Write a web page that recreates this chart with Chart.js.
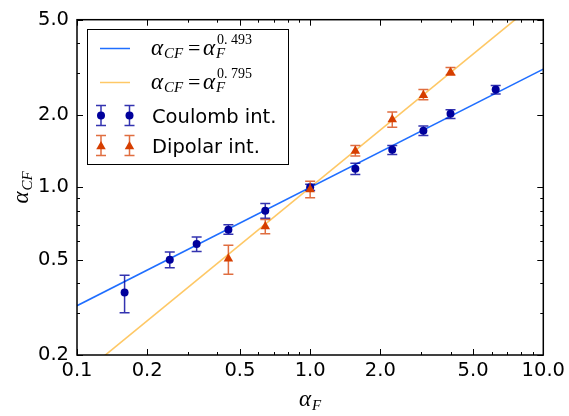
<!DOCTYPE html>
<html>
<head>
<meta charset="utf-8">
<script src="https://cdn.jsdelivr.net/npm/chart.js@4"></script>
<style>
  html, body { margin: 0; padding: 0; background: #fff; }
</style>
</head>
<body>
<canvas id="chart" width="569" height="416"></canvas>
<script>
// values (log-log axes)
const coulombX    = [0.16, 0.25, 0.326, 0.446, 0.642, 1.0, 1.5625, 2.25, 3.06, 4.0, 6.25];
const coulombY    = [0.364, 0.499, 0.58, 0.666, 0.799, 1.0, 1.196, 1.435, 1.72, 2.027, 2.56];
const coulombLow  = [0.30, 0.462, 0.54, 0.637, 0.744, 0.97, 1.132, 1.372, 1.646, 1.937, 2.45];
const coulombHigh = [0.43, 0.537, 0.621, 0.698, 0.857, 1.03, 1.259, 1.496, 1.80, 2.106, 2.66];

const dipolarX    = [0.446, 0.642, 1.0, 1.5625, 2.25, 3.06, 4.0];
const dipolarY    = [0.504, 0.686, 0.98, 1.416, 1.92, 2.42, 3.02];
const dipolarLow  = [0.434, 0.641, 0.906, 1.35, 1.78, 2.32, 2.93];
const dipolarHigh = [0.574, 0.735, 1.06, 1.496, 2.06, 2.56, 3.16];

// fitted power laws, end points at the axis limits
const fitX       = [0.1, 10];
const coulombFit = [0.321, 3.11];   // alpha_F^0.493
const dipolarFit = [0.160, 6.24];   // alpha_F^0.795

const xTicks = [0.1, 0.2, 0.5, 1, 2, 5, 10];
const xMinor = [0.3, 0.4, 0.6, 0.7, 0.8, 0.9, 3, 4, 6, 7, 8, 9];
const yTicks = [0.2, 0.5, 1, 2, 5];
const yMinor = [0.3, 0.4, 0.6, 0.7, 0.8, 0.9, 3, 4];

const BLUE_LINE = "#1f6eff";
const ORANGE_LINE = "#fec866";
const BLUE_PT = "#00009c";
const BLUE_ERR = "rgba(0,0,156,0.8)";
const RED_PT = "#d63e00";
const RED_ERR = "rgba(214,62,0,0.75)";
const MATH = '"Liberation Serif", "DejaVu Serif", serif';
const SANS = '"DejaVu Sans", sans-serif';

const toPts = (xs, ys) => xs.map((x, i) => ({ x: x, y: ys[i] }));

// ========== helpers ==========
function mathSym(ctx, x, y, base, sub, sup, dry) {
  ctx.font = `italic 23px ${MATH}`;
  const w = ctx.measureText(base).width;
  if (!dry) ctx.fillText(base, x, y);
  let end = x + w;
  if (sub) {
    ctx.font = `italic 15px ${MATH}`;
    if (!dry) ctx.fillText(sub, x + w + 1, y + 3.5);
    end = Math.max(end, x + w + 1 + ctx.measureText(sub).width);
  }
  if (sup) {
    ctx.font = `14px ${MATH}`;
    if (!dry) ctx.fillText(sup, x + w + 2, y - 11);
    end = Math.max(end, x + w + 2 + ctx.measureText(sup).width);
  }
  return end - x;
}

function errBar(ctx, px, top, bot) {
  ctx.beginPath();
  ctx.moveTo(px, top); ctx.lineTo(px, bot);
  ctx.moveTo(px - 5, top); ctx.lineTo(px + 5, top);
  ctx.moveTo(px - 5, bot); ctx.lineTo(px + 5, bot);
  ctx.stroke();
}

function circle(ctx, x, y, r) {
  ctx.beginPath(); ctx.arc(x, y, r, 0, Math.PI * 2); ctx.fill();
}

function triangle(ctx, x, y, r) {
  ctx.beginPath();
  for (let k = 0; k < 3; k++) {
    const a = k * 2 * Math.PI / 3;
    const fx = x + Math.sin(a) * r, fy = y - Math.cos(a) * r;
    k === 0 ? ctx.moveTo(fx, fy) : ctx.lineTo(fx, fy);
  }
  ctx.closePath(); ctx.fill();
}

// ========== plugins ==========
const errorBars = {
  id: "errorBars",
  beforeDatasetDraw(chart, args) {
    const ds = chart.data.datasets[args.index];
    if (!ds.errLow) return;
    const { ctx, scales: { x, y } } = chart;
    ctx.save();
    ctx.strokeStyle = ds.errColor;
    ctx.lineWidth = 1.5;
    ds.data.forEach((p, i) => {
      errBar(ctx, x.getPixelForValue(p.x), y.getPixelForValue(ds.errHigh[i]), y.getPixelForValue(ds.errLow[i]));
    });
    ctx.restore();
  }
};

const frame = {
  id: "frame",
  afterDraw(chart) {
    const { ctx, chartArea: a, scales: { x, y } } = chart;
    ctx.save();
    ctx.strokeStyle = "#000";
    ctx.lineWidth = 1;
    const tickX = (vals, len) => vals.forEach(v => {
      const px = Math.round(x.getPixelForValue(v)) + 0.5;
      ctx.beginPath();
      ctx.moveTo(px, a.bottom); ctx.lineTo(px, a.bottom - len);
      ctx.moveTo(px, a.top); ctx.lineTo(px, a.top + len);
      ctx.stroke();
    });
    const tickY = (vals, len) => vals.forEach(v => {
      const py = Math.round(y.getPixelForValue(v)) + 0.5;
      ctx.beginPath();
      ctx.moveTo(a.left, py); ctx.lineTo(a.left + len, py);
      ctx.moveTo(a.right, py); ctx.lineTo(a.right - len, py);
      ctx.stroke();
    });
    tickX(xTicks, 6); tickX(xMinor, 3);
    tickY(yTicks, 6); tickY(yMinor, 3);
    ctx.lineWidth = 1.5;
    ctx.strokeRect(a.left, a.top, a.right - a.left, a.bottom - a.top);

    // legend
    ctx.fillStyle = "#fff";
    ctx.fillRect(87, 29, 201, 135);
    ctx.lineWidth = 1;
    ctx.strokeRect(87.5, 29.5, 201, 135);
    ctx.lineWidth = 1.5;
    ctx.strokeStyle = BLUE_LINE;
    ctx.beginPath(); ctx.moveTo(100, 48.5); ctx.lineTo(130, 48.5); ctx.stroke();
    ctx.strokeStyle = ORANGE_LINE;
    ctx.beginPath(); ctx.moveTo(100, 82.5); ctx.lineTo(130, 82.5); ctx.stroke();
    [[54.5, "0. 493"], [88.5, "0. 795"]].forEach(([by, p]) => {
      ctx.fillStyle = "#000";
      mathSym(ctx, 151, by, "\u03b1", "CF");
      ctx.font = `22px ${MATH}`;
      ctx.fillText("=", 188, by);
      mathSym(ctx, 203, by, "\u03b1", "F", p);
    });
    [101, 129.5].forEach(px => {
      ctx.strokeStyle = BLUE_ERR; errBar(ctx, px, 105.5, 125.5);
      ctx.fillStyle = BLUE_PT; circle(ctx, px, 115.5, 4);
      ctx.strokeStyle = RED_ERR; errBar(ctx, px, 135.5, 155.5);
      ctx.fillStyle = RED_PT; triangle(ctx, px, 146.5, 5.5);
    });
    ctx.fillStyle = "#000";
    ctx.font = `19.5px ${SANS}`;
    ctx.fillText("Coulomb int.", 152, 122.5);
    ctx.fillText("Dipolar int.", 152, 153);

    // axis titles
    const cx = (a.left + a.right) / 2;
    const wx = mathSym(ctx, 0, 0, "\u03b1", "F", null, true);
    mathSym(ctx, cx - wx / 2, 406, "\u03b1", "F");
    ctx.translate(28, (a.top + a.bottom) / 2);
    ctx.rotate(-Math.PI / 2);
    const wy = mathSym(ctx, 0, 0, "\u03b1", "CF", null, true);
    mathSym(ctx, -wy / 2, 0, "\u03b1", "CF");
    ctx.restore();
  }
};

// ========== chart ==========
new Chart(document.getElementById("chart"), {
  type: "scatter",
  data: {
    datasets: [
      {
        label: "Dipolar int.", data: toPts(dipolarX, dipolarY), order: 0,
        pointStyle: "triangle", pointRadius: 5.5, borderWidth: 0,
        backgroundColor: RED_PT, errLow: dipolarLow, errHigh: dipolarHigh, errColor: RED_ERR
      },
      {
        label: "Coulomb int.", data: toPts(coulombX, coulombY), order: 1,
        pointStyle: "circle", pointRadius: 4, borderWidth: 0,
        backgroundColor: BLUE_PT, errLow: coulombLow, errHigh: coulombHigh, errColor: BLUE_ERR
      },
      {
        label: "fit 0.493", data: toPts(fitX, coulombFit), order: 2, showLine: true,
        borderColor: BLUE_LINE, borderWidth: 1.6, pointRadius: 0
      },
      {
        label: "fit 0.795", data: toPts(fitX, dipolarFit), order: 2, showLine: true,
        borderColor: ORANGE_LINE, borderWidth: 1.6, pointRadius: 0
      }
    ]
  },
  options: {
    responsive: false,
    animation: false,
    layout: { padding: { top: 19, right: 24, left: 0, bottom: 0 } },
    plugins: { legend: { display: false }, tooltip: { enabled: false } },
    scales: {
      x: {
        type: "logarithmic", min: 0.1, max: 10,
        grid: { display: false, drawTicks: false }, border: { display: false },
        afterBuildTicks: s => { s.ticks = xTicks.map(v => ({ value: v })); },
        afterFit: s => { s.height = 61; },
        ticks: {
          autoSkip: false, maxRotation: 0, padding: 4, color: "#000",
          font: { family: SANS, size: 19.5 },
          callback: v => Number(v).toFixed(1)
        }
      },
      y: {
        type: "logarithmic", min: 0.2, max: 5,
        grid: { display: false, drawTicks: false }, border: { display: false },
        afterBuildTicks: s => { s.ticks = yTicks.map(v => ({ value: v })); },
        afterFit: s => { s.width = 77; },
        ticks: {
          autoSkip: false, padding: 8, color: "#000",
          font: { family: SANS, size: 19.5 },
          callback: v => Number(v).toFixed(1)
        }
      }
    }
  },
  plugins: [errorBars, frame]
});
</script>
</body>
</html>
